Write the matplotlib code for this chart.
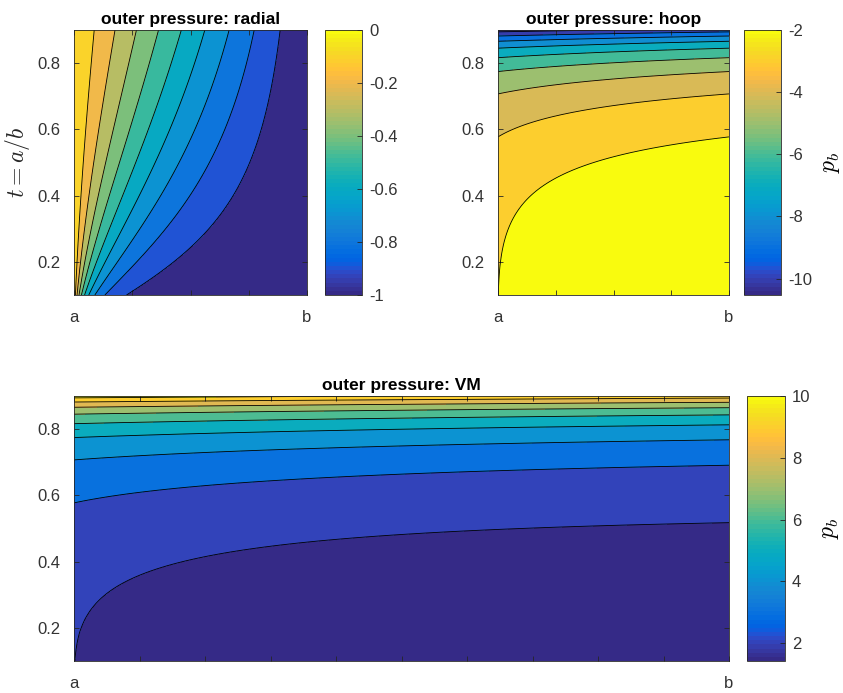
import numpy as np
import matplotlib
matplotlib.use("Agg")
import matplotlib.pyplot as plt
from matplotlib.colors import ListedColormap, Normalize
from matplotlib.cm import ScalarMappable

# ---- config / data ----
P_B = 1.0                  # outer pressure
T_RANGE = (0.1, 0.9)       # t = a/b
N_X, N_T = 120, 120

RADIAL_LEVELS = [-0.9, -0.8, -0.7, -0.6, -0.5, -0.4, -0.3, -0.2, -0.1]
HOOP_LEVELS = [-10, -9, -8, -7, -6, -5, -4, -3, -2]
VM_LEVELS = [2, 3, 4, 5, 6, 7, 8, 9, 10]

RADIAL_TICKS = [-1, -0.8, -0.6, -0.4, -0.2, 0]
RADIAL_TICKLABELS = ["-1", "-0.8", "-0.6", "-0.4", "-0.2", "0"]
HOOP_TICKS = [-10, -8, -6, -4, -2]
VM_TICKS = [2, 4, 6, 8, 10]
Y_TICKS = [0.2, 0.4, 0.6, 0.8]

# MATLAB parula (64)
PARULA = [
    [0.2081, 0.1663, 0.5292], [0.2116, 0.1898, 0.5777], [0.2123, 0.2138, 0.6270], [0.2081, 0.2386, 0.6771],
    [0.1959, 0.2645, 0.7279], [0.1707, 0.2919, 0.7792], [0.1253, 0.3242, 0.8303], [0.0591, 0.3598, 0.8683],
    [0.0117, 0.3875, 0.8820], [0.0060, 0.4086, 0.8828], [0.0165, 0.4266, 0.8786], [0.0329, 0.4430, 0.8720],
    [0.0498, 0.4586, 0.8641], [0.0629, 0.4737, 0.8554], [0.0723, 0.4887, 0.8467], [0.0779, 0.5040, 0.8384],
    [0.0793, 0.5200, 0.8312], [0.0749, 0.5375, 0.8263], [0.0641, 0.5570, 0.8240], [0.0488, 0.5772, 0.8228],
    [0.0343, 0.5966, 0.8199], [0.0265, 0.6137, 0.8135], [0.0239, 0.6287, 0.8038], [0.0231, 0.6418, 0.7913],
    [0.0228, 0.6535, 0.7768], [0.0267, 0.6642, 0.7607], [0.0384, 0.6743, 0.7436], [0.0590, 0.6838, 0.7254],
    [0.0843, 0.6928, 0.7062], [0.1133, 0.7015, 0.6859], [0.1453, 0.7098, 0.6646], [0.1801, 0.7177, 0.6424],
    [0.2178, 0.7250, 0.6193], [0.2586, 0.7317, 0.5954], [0.3022, 0.7376, 0.5712], [0.3482, 0.7424, 0.5473],
    [0.3953, 0.7459, 0.5244], [0.4420, 0.7481, 0.5033], [0.4871, 0.7491, 0.4840], [0.5300, 0.7491, 0.4661],
    [0.5709, 0.7485, 0.4494], [0.6099, 0.7473, 0.4337], [0.6473, 0.7456, 0.4188], [0.6834, 0.7435, 0.4044],
    [0.7184, 0.7411, 0.3905], [0.7525, 0.7384, 0.3768], [0.7858, 0.7356, 0.3633], [0.8185, 0.7327, 0.3498],
    [0.8507, 0.7299, 0.3360], [0.8824, 0.7274, 0.3217], [0.9139, 0.7258, 0.3063], [0.9450, 0.7261, 0.2886],
    [0.9739, 0.7314, 0.2666], [0.9938, 0.7455, 0.2403], [0.9990, 0.7653, 0.2164], [0.9955, 0.7861, 0.1967],
    [0.9880, 0.8066, 0.1794], [0.9789, 0.8271, 0.1633], [0.9697, 0.8481, 0.1475], [0.9626, 0.8705, 0.1309],
    [0.9589, 0.8949, 0.1132], [0.9598, 0.9218, 0.0948], [0.9661, 0.9514, 0.0755], [0.9763, 0.9831, 0.0538],
]
cmap = ListedColormap(PARULA, name="parula")

plt.rcParams["font.family"] = ["Liberation Sans", "DejaVu Sans"]
plt.rcParams["mathtext.fontset"] = "cm"
plt.rcParams["axes.unicode_minus"] = False
AX_COL = "#262626"
TICK_COL = "#333333"
TICK_FS = 12

# ---- Lame stresses, outer pressure only (b = 1) ----
x = np.linspace(0, 1, N_X)
t = np.linspace(T_RANGE[0], T_RANGE[1], N_T)
X, T = np.meshgrid(x, t)
R = T + X * (1 - T)
k = P_B / (1 - T**2)
sig_r = -k * (1 - T**2 / R**2)
sig_h = -k * (1 + T**2 / R**2)
sig_vm = np.sqrt(sig_r**2 + sig_h**2)


def panel(ax, cax, Z, levels, vmax, ticks, title, ticklabels=None, cbar_label=None, nx_ticks=4):
    zmin, zmax = Z.min(), Z.max()
    inner = [l for l in levels if zmin < l < zmax]
    edges = [zmin - 1e-9] + inner + [zmax + 1e-9]
    norm = Normalize(vmin=zmin, vmax=vmax)
    # MATLAB-style: each band gets the colour of its lower level
    fills = [cmap(norm(zmin))] + [cmap(min(norm(l), 0.9999)) for l in inner]
    ax.contourf(X, T, Z, levels=edges, colors=fills)
    ax.contour(X, T, Z, levels=inner, colors="k", linewidths=0.6, linestyles="solid")
    ax.set_xlim(0, 1)
    ax.set_ylim(*T_RANGE)
    xt = np.linspace(0, 1, nx_ticks + 1)
    ax.set_xticks(xt)
    ax.set_xticklabels(["a"] + [""] * (nx_ticks - 1) + ["b"])
    ax.set_yticks(Y_TICKS)
    ax.set_yticklabels([f"{v:g}" for v in Y_TICKS])
    ax.tick_params(direction="in", top=True, right=True, length=3.5, width=0.6,
                   labelsize=TICK_FS, colors=AX_COL, labelcolor=TICK_COL)
    ax.tick_params(axis="x", pad=11)
    ax.tick_params(axis="y", pad=10)
    for s in ax.spines.values():
        s.set_color(AX_COL)
        s.set_linewidth(0.6)
    ax.set_title(title, fontsize=12.5, fontweight="bold", color="black", pad=4)

    sm = ScalarMappable(norm=norm, cmap=cmap)
    cb = plt.colorbar(sm, cax=cax, ticks=ticks)
    if ticklabels is not None:
        cb.set_ticklabels(ticklabels)
    cb.ax.tick_params(direction="in", length=3.5, width=0.6, labelsize=TICK_FS,
                      colors=AX_COL, labelcolor=TICK_COL, pad=5)
    cb.outline.set_edgecolor(AX_COL)
    cb.outline.set_linewidth(0.6)
    if cbar_label:
        cb.set_label(cbar_label, fontsize=17, labelpad=6)


W, H = 843, 693
fig = plt.figure(figsize=(W / 100, H / 100), dpi=100)


def rect(x0, y0, x1, y1):
    return [x0 / W, 1 - y1 / H, (x1 - x0) / W, (y1 - y0) / H]


ax1 = fig.add_axes(rect(74, 30, 307, 295))
cax1 = fig.add_axes(rect(325, 30, 362, 295))
ax2 = fig.add_axes(rect(498, 30, 729, 295))
cax2 = fig.add_axes(rect(744, 30, 781, 295))
ax3 = fig.add_axes(rect(74, 396, 729, 661))
cax3 = fig.add_axes(rect(747, 396, 785, 661))

panel(ax1, cax1, sig_r, RADIAL_LEVELS, 0, RADIAL_TICKS, "outer pressure: radial",
      ticklabels=RADIAL_TICKLABELS)
panel(ax2, cax2, sig_h, HOOP_LEVELS, -2, HOOP_TICKS, "outer pressure: hoop",
      cbar_label="$p_b$")
panel(ax3, cax3, sig_vm, VM_LEVELS, 10, VM_TICKS, "outer pressure: VM",
      cbar_label="$p_b$", nx_ticks=10)

ax1.set_ylabel("$t=a/b$", fontsize=17, color=AX_COL)
ax1.yaxis.set_label_coords(-0.18, 0.5)

fig.savefig("out.png", dpi=100)
